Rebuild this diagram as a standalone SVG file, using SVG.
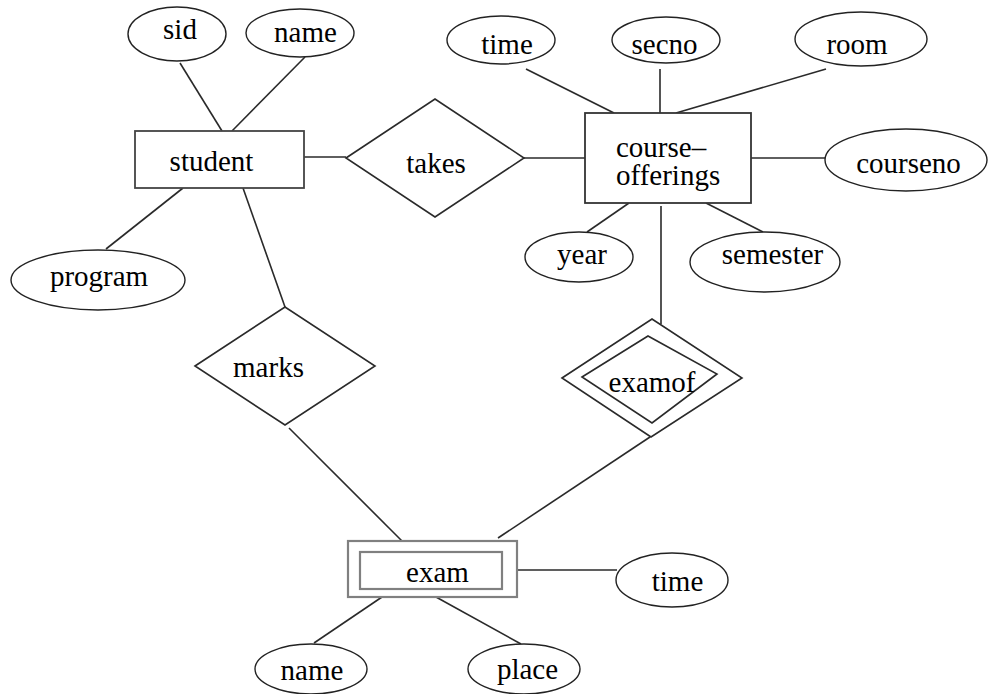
<svg xmlns="http://www.w3.org/2000/svg" width="989" height="694" viewBox="0 0 989 694">
<style>
  .bg { fill: #ffffff; }
  .attr { fill: #ffffff; stroke: #222222; stroke-width: 1.4; }
  .ent { fill: #ffffff; stroke: #444444; stroke-width: 1.8; }
  .weak { fill: #ffffff; stroke: #808080; stroke-width: 2.2; }
  .rel { fill: #ffffff; stroke: #2a2a2a; stroke-width: 1.6; }
  .conn line { stroke: #2a2a2a; stroke-width: 1.6; }
  .lbl { font-family: 'Liberation Serif', 'DejaVu Serif', serif; font-size: 29px; fill: #000000; text-anchor: middle; }
</style>
<rect class="bg" x="0" y="0" width="989" height="694"/>
<g id="connectors" class="conn">
  <line x1="180" y1="63" x2="222" y2="131"/>
  <line x1="305" y1="57" x2="232" y2="131"/>
  <line x1="183" y1="188" x2="106" y2="249"/>
  <line x1="243" y1="188" x2="285" y2="307"/>
  <line x1="303" y1="157" x2="346" y2="157"/>
  <line x1="524" y1="158" x2="585" y2="158"/>
  <line x1="526" y1="69" x2="614" y2="113"/>
  <line x1="660" y1="69" x2="660" y2="113"/>
  <line x1="826" y1="69" x2="676" y2="113"/>
  <line x1="751" y1="158" x2="825" y2="158"/>
  <line x1="629" y1="203" x2="587" y2="232"/>
  <line x1="706" y1="203" x2="763" y2="232"/>
  <line x1="661" y1="206" x2="661" y2="324"/>
  <line x1="289" y1="428" x2="402" y2="541"/>
  <line x1="650" y1="437" x2="498" y2="538"/>
  <line x1="517" y1="570" x2="617" y2="570"/>
  <line x1="382" y1="597" x2="314" y2="643"/>
  <line x1="436" y1="597" x2="521" y2="644"/>
</g>
<g id="student">
  <rect class="ent" x="135" y="131" width="169" height="57"/>
  <text class="lbl" font-family="Liberation Serif" x="211.5" y="171">student</text>
</g>
<g id="sid">
  <ellipse class="attr" cx="177" cy="34" rx="49" ry="27"/>
  <text class="lbl" x="180" y="39">sid</text>
</g>
<g id="student-name">
  <ellipse class="attr" cx="300" cy="33" rx="54" ry="24"/>
  <text class="lbl" x="305.5" y="42">name</text>
</g>
<g id="program">
  <ellipse class="attr" cx="98" cy="280" rx="87" ry="30"/>
  <text class="lbl" x="99" y="286">program</text>
</g>
<g id="takes">
  <polygon class="rel" points="346,158 435,99 524,158 435,217"/>
  <text class="lbl" x="436" y="173">takes</text>
</g>
<g id="course-offerings">
  <rect class="ent" x="585" y="113" width="166" height="90" style="stroke:#333333"/>
  <text class="lbl" x="616" y="157" style="text-anchor:start">course–</text>
  <text class="lbl" x="616" y="185" style="text-anchor:start">offerings</text>
</g>
<g id="co-time">
  <ellipse class="attr" cx="501" cy="40" rx="54" ry="24"/>
  <text class="lbl" x="507" y="54">time</text>
</g>
<g id="secno">
  <ellipse class="attr" cx="666" cy="40" rx="54" ry="23"/>
  <text class="lbl" x="664.5" y="54">secno</text>
</g>
<g id="room">
  <ellipse class="attr" cx="861" cy="39" rx="66" ry="27"/>
  <text class="lbl" x="857" y="54">room</text>
</g>
<g id="courseno">
  <ellipse class="attr" cx="906" cy="160" rx="81" ry="31"/>
  <text class="lbl" x="908.5" y="173">courseno</text>
</g>
<g id="year">
  <ellipse class="attr" cx="579" cy="257" rx="54" ry="25"/>
  <text class="lbl" x="582" y="264">year</text>
</g>
<g id="semester">
  <ellipse class="attr" cx="765" cy="262" rx="75" ry="30"/>
  <text class="lbl" x="772.5" y="264">semester</text>
</g>
<g id="marks">
  <polygon class="rel" points="195,366 285,307 375,366 285,425"/>
  <text class="lbl" x="268.5" y="377">marks</text>
</g>
<g id="examof">
  <polygon class="rel" points="562,378 652,319 742,378 651,437"/>
  <polygon class="rel" points="582,377 648,336 717,374 652,423"/>
  <text class="lbl" x="652" y="392">examof</text>
</g>
<g id="exam">
  <rect class="weak" x="348" y="541" width="169" height="56"/>
  <rect class="weak" x="360" y="552" width="142" height="37"/>
  <text class="lbl" x="437.5" y="582">exam</text>
</g>
<g id="exam-time">
  <ellipse class="attr" cx="672" cy="580" rx="56" ry="27"/>
  <text class="lbl" x="677.5" y="591">time</text>
</g>
<g id="exam-name">
  <ellipse class="attr" cx="311" cy="669" rx="56" ry="25"/>
  <text class="lbl" x="312" y="680">name</text>
</g>
<g id="place">
  <ellipse class="attr" cx="524" cy="669" rx="56" ry="25"/>
  <text class="lbl" x="527.5" y="679">place</text>
</g>
</svg>
